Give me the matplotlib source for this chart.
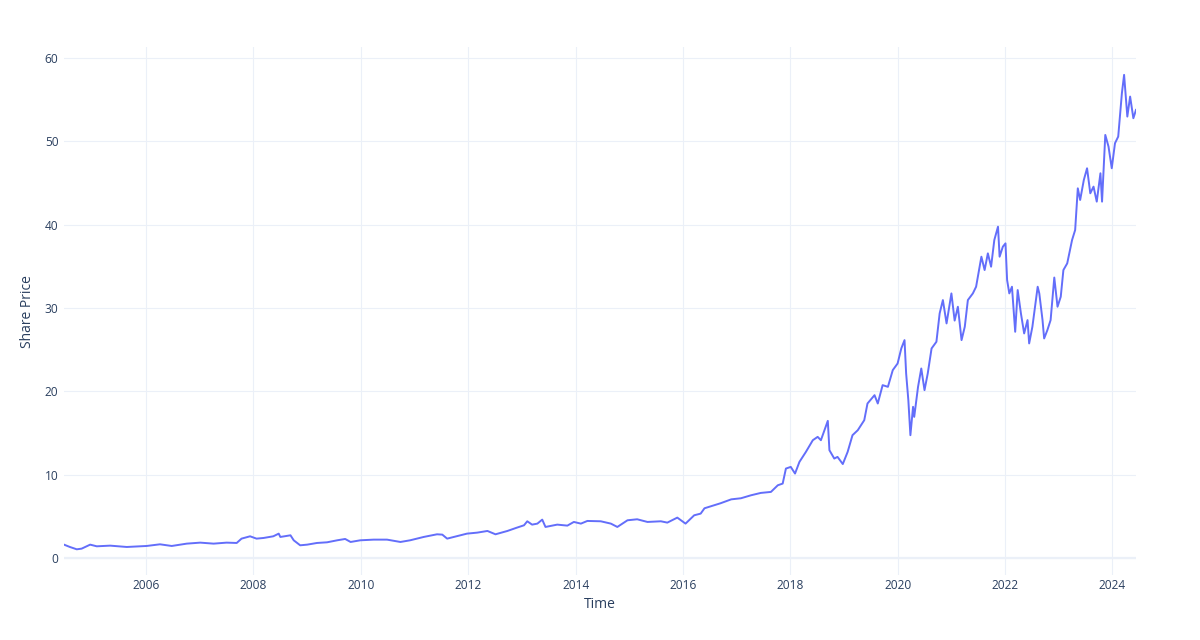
import matplotlib
matplotlib.use("Agg")
import matplotlib.pyplot as plt
import matplotlib.dates as mdates
import pandas as pd

dates = [
    "2004-06-21", "2004-07-31", "2004-09-16", "2004-10-19", "2004-12-16",
    "2005-01-30", "2005-05-01", "2005-08-22", "2006-01-04", "2006-04-05",
    "2006-06-24", "2006-10-04", "2007-01-04", "2007-04-05", "2007-07-02",
    "2007-09-09", "2007-10-12", "2007-12-09", "2008-01-22", "2008-03-10",
    "2008-05-15", "2008-06-21", "2008-07-02", "2008-09-09", "2008-10-01",
    "2008-11-14", "2009-01-01", "2009-03-08", "2009-05-16", "2009-07-24",
    "2009-09-16", "2009-10-23", "2009-12-28", "2010-03-29", "2010-06-28",
    "2010-09-27", "2010-12-02", "2011-03-04", "2011-06-03", "2011-07-09",
    "2011-08-11", "2011-09-24", "2011-12-24", "2012-03-03", "2012-05-11",
    "2012-07-05", "2012-09-24", "2012-11-28", "2013-01-15", "2013-02-06",
    "2013-03-11", "2013-04-16", "2013-05-19", "2013-06-10", "2013-08-29",
    "2013-11-06", "2013-12-20", "2014-02-06", "2014-03-22", "2014-06-21",
    "2014-08-29", "2014-10-12", "2014-12-20", "2015-02-24", "2015-05-05",
    "2015-08-04", "2015-09-17", "2015-11-24", "2016-01-19", "2016-03-18",
    "2016-05-01", "2016-05-27", "2016-09-13", "2016-11-25", "2017-01-30",
    "2017-04-09", "2017-06-14", "2017-08-22", "2017-10-08", "2017-11-10",
    "2017-12-02", "2018-01-04", "2018-02-02", "2018-03-04", "2018-04-17",
    "2018-06-03", "2018-07-06", "2018-07-28", "2018-09-13", "2018-09-24",
    "2018-10-27", "2018-11-18", "2018-12-24", "2019-01-26", "2019-02-28",
    "2019-04-05", "2019-05-19", "2019-06-10", "2019-07-28", "2019-08-19",
    "2019-09-21", "2019-10-27", "2019-11-29", "2020-01-01", "2020-01-26",
    "2020-02-17", "2020-02-28", "2020-03-14", "2020-03-28", "2020-04-15",
    "2020-04-23", "2020-05-19", "2020-06-10", "2020-07-02", "2020-07-24",
    "2020-08-19", "2020-09-21", "2020-10-13", "2020-11-04", "2020-11-29",
    "2021-01-01", "2021-01-23", "2021-02-14", "2021-03-11", "2021-04-02",
    "2021-04-23", "2021-05-27", "2021-06-18", "2021-07-24", "2021-08-15",
    "2021-09-06", "2021-09-28", "2021-10-20", "2021-11-14", "2021-11-25",
    "2021-12-17", "2022-01-04", "2022-01-15", "2022-01-30", "2022-02-17",
    "2022-03-11", "2022-03-28", "2022-04-19", "2022-05-11", "2022-06-03",
    "2022-06-14", "2022-07-06", "2022-08-11", "2022-08-22", "2022-09-13",
    "2022-09-24", "2022-10-16", "2022-11-07", "2022-12-02", "2022-12-24",
    "2023-01-15", "2023-02-02", "2023-02-28", "2023-04-02", "2023-04-23",
    "2023-05-11", "2023-05-27", "2023-06-21", "2023-07-13", "2023-08-04",
    "2023-08-26", "2023-09-17", "2023-10-12", "2023-10-23", "2023-11-14",
    "2023-12-06", "2023-12-28", "2024-01-19", "2024-02-10", "2024-03-06",
    "2024-03-21", "2024-04-12", "2024-05-01", "2024-05-23", "2024-06-10",
]

share_price = [
    1.64, 1.36, 1.08, 1.16, 1.64,
    1.44, 1.52, 1.36, 1.48, 1.68,
    1.48, 1.76, 1.88, 1.76, 1.88,
    1.84, 2.36, 2.64, 2.36, 2.44,
    2.64, 2.96, 2.56, 2.76, 2.16,
    1.56, 1.64, 1.84, 1.92, 2.16,
    2.32, 1.96, 2.16, 2.24, 2.24,
    1.96, 2.16, 2.56, 2.88, 2.84,
    2.36, 2.56, 2.96, 3.08, 3.28,
    2.88, 3.28, 3.68, 3.96, 4.44,
    4.04, 4.16, 4.64, 3.76, 4.04,
    3.92, 4.36, 4.16, 4.48, 4.44,
    4.16, 3.76, 4.56, 4.68, 4.36,
    4.44, 4.28, 4.88, 4.16, 5.16,
    5.36, 6.00, 6.60, 7.07, 7.20,
    7.56, 7.84, 7.96, 8.76, 8.96,
    10.76, 10.96, 10.16, 11.56, 12.76,
    14.16, 14.56, 14.16, 16.48, 12.96,
    11.96, 12.16, 11.30, 12.76, 14.76,
    15.36, 16.56, 18.56, 19.56, 18.56,
    20.76, 20.56, 22.56, 23.36, 25.16,
    26.16, 22.16, 18.96, 14.76, 18.16,
    16.96, 20.56, 22.76, 20.16, 22.16,
    25.16, 25.96, 29.36, 30.96, 28.16,
    31.76, 28.50, 30.16, 26.16, 27.76,
    30.96, 31.76, 32.56, 36.16, 34.56,
    36.56, 34.96, 38.16, 39.76, 36.16,
    37.36, 37.76, 33.36, 31.76, 32.56,
    27.16, 32.16, 29.36, 26.96, 28.56,
    25.76, 27.76, 32.56, 31.76, 28.56,
    26.36, 27.36, 28.56, 33.66, 30.16,
    31.36, 34.56, 35.36, 38.16, 39.36,
    44.36, 42.96, 45.36, 46.76, 43.76,
    44.56, 42.76, 46.16, 42.76, 50.76,
    49.36, 46.76, 49.76, 50.56, 55.76,
    57.96, 52.96, 55.36, 52.76, 53.76,
]

x_tick_years = [2006, 2008, 2010, 2012, 2014, 2016, 2018, 2020, 2022, 2024]
y_ticks = [0, 10, 20, 30, 40, 50, 60]

x_title = "Time"
y_title = "Share Price"

TEXT = "#2a3f5f"
GRID = "#EBF0F8"
LINE = "#636EFA"
FONT = "Open Sans"

dt = pd.to_datetime(dates)

fig = plt.figure(figsize=(12, 6.4), dpi=100)
ax = fig.add_axes([64 / 1200, 65 / 640, 1072 / 1200, 528 / 640])

ax.plot(dt, share_price, color=LINE, linewidth=1.4, solid_joinstyle="round", zorder=3)

ax.set_xlim(dt[0], dt[-1])
ax.set_ylim(-2.0, 61.3)

ax.set_xticks([pd.Timestamp(f"{y}-01-01") for y in x_tick_years])
ax.xaxis.set_major_formatter(mdates.DateFormatter("%Y"))
ax.set_yticks(y_ticks)

ax.grid(True, color=GRID, linewidth=0.8, zorder=0)
ax.axhline(0, color=GRID, linewidth=1.6, zorder=1)
for s in ax.spines.values():
    s.set_visible(False)

ax.tick_params(axis="both", length=0, labelcolor=TEXT, labelsize=8.6)
ax.tick_params(axis="x", pad=3)
ax.tick_params(axis="y", pad=4)
for lab in ax.get_xticklabels() + ax.get_yticklabels():
    lab.set_fontfamily(FONT)

fig.text(600 / 1200, 1 - 604 / 640, x_title, ha="center", va="center",
         color=TEXT, fontsize=10, fontfamily=FONT)
fig.text(28 / 1200, 1 - 312 / 640, y_title, ha="center", va="center",
         rotation=90, color=TEXT, fontsize=10, fontfamily=FONT)

fig.savefig("out.png", dpi=100, facecolor="white")
